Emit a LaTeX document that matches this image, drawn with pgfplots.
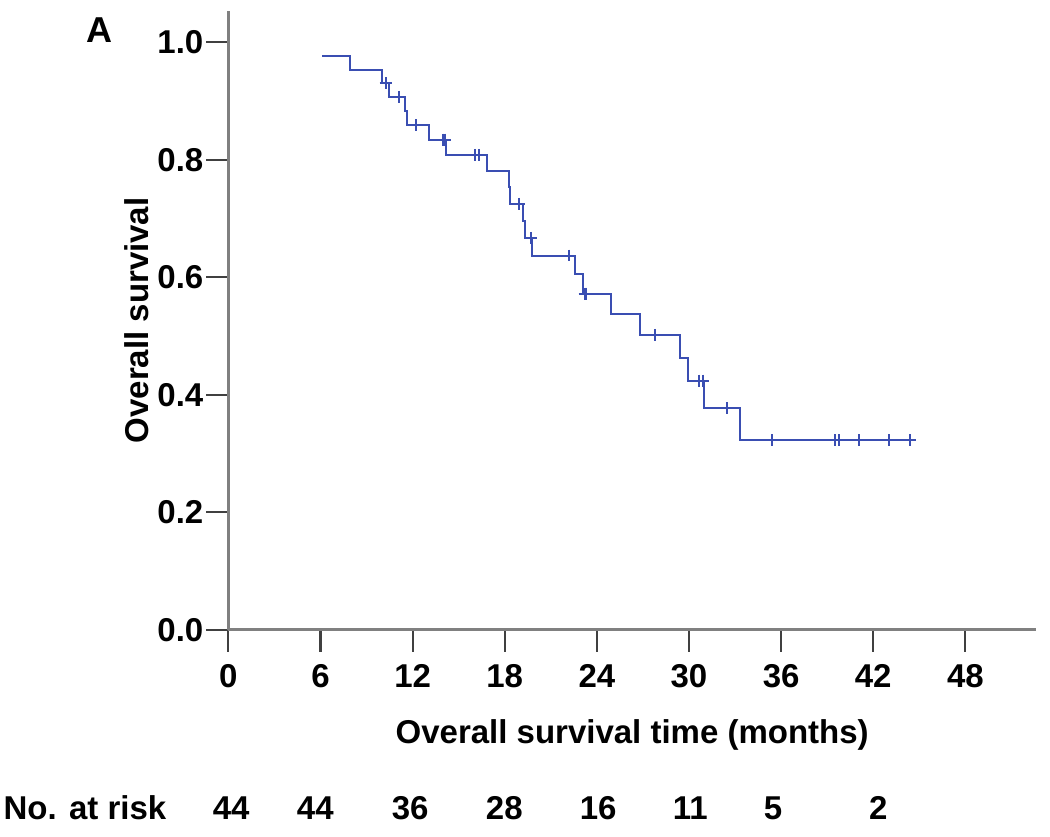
\documentclass[border=0pt]{standalone}
\usepackage{fontspec}
\setmainfont{Liberation Sans}
\usepackage{pgfplots}
\pgfplotsset{compat=1.18}
\definecolor{kmblue}{RGB}{58,78,178}
\definecolor{axgray}{RGB}{128,128,128}
\begin{document}
\begin{tikzpicture}
\begin{axis}[
    scale only axis,
    width=403.9pt, height=309.5pt,
    xmin=0, xmax=52.6, ymin=0, ymax=1.053,
    axis lines*=left,
    axis line style={axgray, line width=1.5pt, -},
    xtick={0,6,12,18,24,30,36,42,48},
    ytick={0,0.2,0.4,0.6,0.8,1.0},
    tick align=outside,
    major tick length=11pt,
    tick style={black!75, line width=1.1pt},
    yticklabel style={/pgf/number format/fixed, /pgf/number format/fixed zerofill,
        /pgf/number format/precision=1, xshift=2pt},
    xticklabel style={yshift=-3pt},
    /pgf/number format/assume math mode=true,
    tick label style={font=\fontsize{16.5}{19}\selectfont\bfseries},
    label style={font=\fontsize{16.5}{20}\selectfont\bfseries},
    xlabel={Overall survival time (months)},
    ylabel={Overall survival},
    xlabel style={at={(axis description cs:0.5,0)}, anchor=center, yshift=-52.5pt},
    ylabel style={at={(axis description cs:0,0.5)}, anchor=center, yshift=45.6pt},
    clip=false,
]
% KM step curve
\addplot[kmblue, line width=1pt, const plot] coordinates {
    (6.1,0.976) (7.94,0.953) (9.98,0.930) (10.46,0.907) (11.48,0.883)
    (11.65,0.859) (13.05,0.834) (14.16,0.808) (16.85,0.781) (18.29,0.754)
    (18.37,0.725) (19.2,0.696) (19.35,0.667) (19.79,0.637) (22.6,0.605)
    (23.07,0.572) (24.9,0.537) (26.8,0.502) (29.42,0.463) (29.96,0.424)
    (30.99,0.377) (33.29,0.323) (44.6,0.323)
};
% censored
\addplot[kmblue, only marks, mark=+, mark size=3pt, line width=1pt] coordinates {
    (10.24,0.930) (11.09,0.907) (12.24,0.859) (14.0,0.834) (14.1,0.834)
    (16.05,0.808) (16.31,0.808) (18.9,0.725) (19.7,0.667) (22.18,0.637)
    (23.2,0.572) (23.3,0.572) (27.77,0.502) (30.68,0.424) (30.9,0.424)
    (32.5,0.377) (35.38,0.323) (39.5,0.323) (39.8,0.323) (41.05,0.323)
    (43.0,0.323) (44.42,0.323)
};
\node[font=\fontsize{18}{21}\selectfont\bfseries] at (axis cs:-8.36,1.02) {A};
% numbers at risk
\begin{scope}[every node/.style={font=\fontsize{16.5}{20}\selectfont\bfseries, anchor=base}]
\node at (axis cs:-9.34,-0.323) {No. at risk};
\node at (axis cs:0.18,-0.323) {44};
\node at (axis cs:5.66,-0.323) {44};
\node at (axis cs:11.84,-0.323) {36};
\node at (axis cs:17.97,-0.323) {28};
\node at (axis cs:24.09,-0.323) {16};
\node at (axis cs:30.08,-0.323) {11};
\node at (axis cs:35.48,-0.323) {5};
\node at (axis cs:42.33,-0.323) {2};
\end{scope}
\end{axis}
\pgfresetboundingbox
\path (-114.2pt,-103.5pt) rectangle (410.9pt,315pt);
\end{tikzpicture}
\end{document}
